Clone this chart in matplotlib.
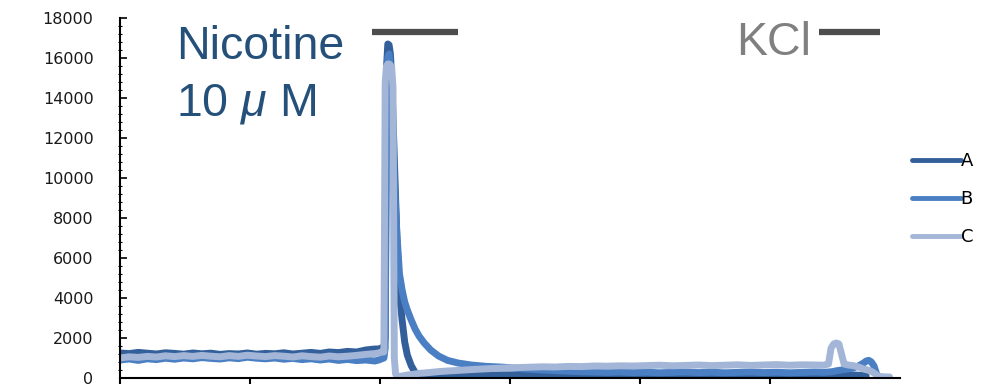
import matplotlib
matplotlib.use('Agg')
matplotlib.rcParams.update({'font.size': 11,
                            'mathtext.fontset': 'custom',
                            'mathtext.rm': 'Liberation Sans',
                            'mathtext.it': 'Liberation Sans:italic'})

from matplotlib import pyplot as plt
from matplotlib.ticker import MultipleLocator
import numpy as np

nan = np.nan

# sample times (arbitrary units, axis runs 0..600)
t = [0, 7, 14, 21, 28, 35, 42, 49, 56, 63, 70, 77, 84, 91, 98, 105, 112, 119, 126, 133,
     140, 147, 154, 161, 168, 175, 182, 189, 196,
     199, 201, 203, 204, 205, 206, 207, 208, 209, 210, 211, 212, 213, 215, 217, 219, 221,
     224, 227, 230, 234, 239, 245, 252, 260, 270, 282, 295,
     305, 315, 325, 335, 345, 355, 365, 375, 385, 395, 405, 415, 425, 435, 445, 455, 465,
     475, 485, 495, 505, 515, 525, 535,
     541, 545, 547, 549, 551, 553, 555, 557, 560, 564, 568, 572, 574, 576, 578, 580, 582,
     584, 587, 590, 592]

trace_a = [1250, 1220, 1280, 1240, 1200, 1260, 1230, 1190, 1250, 1210, 1240, 1180, 1220, 1200,
           1250, 1190, 1230, 1210, 1260, 1200, 1240, 1280, 1230, 1300, 1270, 1330, 1300, 1400, 1450,
           1450, 1500, 1550, 2000, 15500, 16700, 16650, 16200, 15000, 13000, 11000, 9000, 7000,
           4200, 2900, 1800, 1150, 620, 280, 170, 140, 160, 130, 170, 150, 180, 140, 160,
           150, 170, 140, 180, 160, 130, 170, 150, 190, 160, 140, 170, 150, 180, 130, 160, 150,
           170, 140, 160, 180, 150, 130, 160,
           150, 140, 160, 130, 150, 170, 140, 160, 130, 150, 140, 120, 100,
           nan, nan, nan, nan, nan, nan, nan, nan]

trace_b = [900, 950, 880, 960, 920, 990, 940, 1000, 960, 1020, 980, 950, 1010, 970, 1040,
           990, 960, 1000, 940, 980, 920, 960, 900, 950, 880, 930, 870, 900, 850,
           900, 950, 1000, 1500, 13000, 16000, 16200, 15500, 14000, 12000, 10000, 8500, 7200,
           5200, 4400, 3800, 3400, 2900, 2450, 2100, 1750, 1400, 1100, 880, 750, 650, 580, 540,
           480, 440, 400, 370, 340, 310, 300, 280, 300, 270, 290, 260, 280, 300, 270, 290, 260,
           280, 300, 270, 290, 260, 280, 300,
           280, 300, 310, 330, 360, 380, 400, 420, 450, 500, 600, 750, 850, 880, 800, 600, 200,
           nan, nan, nan, nan]

trace_c = [1000, 1060, 1030, 1080, 1050, 1110, 1070, 1120, 1080, 1130, 1090, 1060, 1120, 1080,
           1140, 1100, 1070, 1120, 1090, 1050, 1110, 1070, 1040, 1100, 1060, 1090, 1130, 1180, 1220,
           1250, 1300, 1300, 14800, 15600, 15700, 15700, 15650, 15500, 14500, 1000, 200, 100,
           80, 100, 120, 150, 170, 200, 230, 250, 280, 320, 350, 380, 420, 460, 500,
           520, 540, 560, 550, 580, 570, 600, 590, 610, 600, 620, 640, 610, 630, 650, 620, 640,
           660, 630, 650, 670, 640, 660, 650,
           640, 700, 1500, 1700, 1750, 1700, 1200, 700, 650, 620, 550, 450, 420, 380, 330, 250,
           150, 80, 60, 50, 50]

labels = ['A', 'B', 'C']
colors = ['#33609b', '#4a7fc3', '#a3b6d8']

fig = plt.figure(figsize=(9.87, 3.86), dpi=100)
ax = fig.add_axes([120 / 987, 8 / 386, 780 / 987, 360 / 386])

for y, lab, col in zip([trace_a, trace_b, trace_c], labels, colors):
    ax.plot(t, y, color=col, lw=5, label=lab, solid_capstyle='round', solid_joinstyle='round')

ax.set_xlim(0, 600)
ax.set_ylim(0, 18000)
ax.set_xticks([0, 100, 200, 300, 400, 500])
ax.set_xticklabels([])
ax.set_yticks(range(0, 18001, 2000))
ax.yaxis.set_minor_locator(MultipleLocator(400))
ax.tick_params(axis='y', which='major', direction='in', length=5, width=1.2, pad=19,
               labelsize=11.5, labelcolor='#1a1a1a')
ax.tick_params(axis='y', which='minor', direction='inout', length=3, width=0.8)
ax.tick_params(axis='x', direction='out', length=4, width=1.5)
for s in ['top', 'right']:
    ax.spines[s].set_visible(False)
for s in ['left', 'bottom']:
    ax.spines[s].set_linewidth(1.5)

# stimulus bars and labels
ax.plot([194, 260], [17300, 17300], color='#4d4d4d', lw=4.5, solid_capstyle='butt')
ax.plot([538, 585], [17300, 17300], color='#4d4d4d', lw=4.5, solid_capstyle='butt')
fig.text(176 / 987, 1 - 59 / 386, 'Nicotine', fontsize=33.5, family='Liberation Sans',
         color='#25507a', va='baseline')
fig.text(176 / 987, 1 - 116 / 386, r'10 $\mu$ M', fontsize=33.5, family='Liberation Sans',
         color='#25507a', va='baseline')
fig.text(736 / 987, 1 - 55 / 386, 'KCl', fontsize=33.5, family='Liberation Sans',
         color='#808080', va='baseline')

leg = fig.legend(loc='center left', bbox_to_anchor=(912 / 987, 1 - 199 / 386), frameon=False,
                 fontsize=13, handlelength=2.7, handletextpad=0.0, labelspacing=1.1,
                 borderpad=0, borderaxespad=0)
for h in leg.get_lines():
    h.set_linewidth(3.5)

plt.savefig('out.png', dpi=100)
